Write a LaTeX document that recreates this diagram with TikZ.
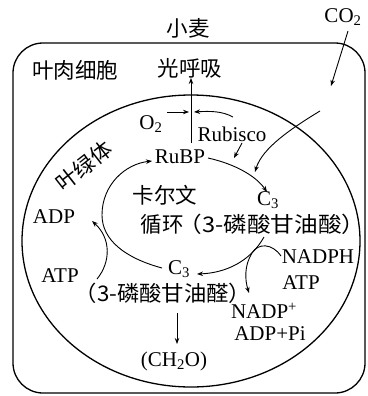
\documentclass[tikz,border=0pt]{standalone}
\usepackage{fontspec}
\setmainfont{Liberation Serif}
\newfontfamily\cjk{Noto Sans CJK SC}
\usetikzlibrary{arrows.meta}
\tikzset{
  lat/.style={inner sep=0pt,font=\fontsize{21}{21}\selectfont},
  zh/.style={inner sep=0pt,font=\cjk\fontsize{21.5}{21.5}\selectfont},
  arr/.style={line width=0.9pt,-{Stealth[length=6pt,width=4.5pt]}},
  ln/.style={line width=0.9pt},
  wall/.style={line width=1.3pt}
}
\begin{document}
\begin{tikzpicture}[x=1pt,y=-1pt]
\useasboundingbox (0,0) rectangle (367,396);
% cell and chloroplast
\draw[wall,rounded corners=30pt] (13,43) rectangle (365,393);
\draw[wall] (191,241) ellipse [x radius=169, y radius=146];
% labels
\node[zh] (wheat) at (188,28) {小麦};
\node[lat] (co2) at (343,17) {CO\textsubscript{2}};
\node[zh] (meso) at (75,70) {叶肉细胞};
\node[zh] (photo) at (190,68) {光呼吸};
\node[lat] (o2) at (151,124) {O\textsubscript{2}};
\node[lat] (rubisco) at (232,134) {Rubisco};
\node[zh,rotate=38] (chloro) at (84,166) {叶绿体};
\node[lat] (rubp) at (180,157) {RuBP};
\node[zh] (calvin) at (165,195) {卡尔文};
\node[lat] (c3a) at (268,200) {C\textsubscript{3}};
\node[zh] (cycle) at (162,224) {循环};
\node[zh] (pga) at (272,224) {\scalebox{1.1}[1]{（3-磷酸甘油酸）}};
\node[lat] (adp) at (54,217) {ADP};
\node[lat] (atpl) at (60,276) {ATP};
\node[lat] (c3b) at (179,269) {C\textsubscript{3}};
\node[zh] (gap) at (163,293) {\scalebox{1.04}[1]{（3-磷酸甘油醛）}};
\node[lat] (ch2o) at (174,361) {(CH\textsubscript{2}O)};
\node[lat] (nadph) at (318,257) {NADPH};
\node[lat] (atpr) at (301,283) {ATP};
\node[lat] (nadp) at (264,311) {NADP\textsuperscript{+}};
\node[lat] (adppi) at (270,334) {ADP+Pi};
% coordinates
\coordinate (co2s) at (348,31);
\coordinate (co2e) at (331,86);
\coordinate (co2is) at (320,111);
\coordinate (co2ie) at (255,172);
\coordinate (prs) at (191,143);
\coordinate (pre) at (191,78);
\coordinate (o2s) at (167,112);
\coordinate (o2e) at (189,112);
\coordinate (rbs) at (233,117);
\coordinate (rbe) at (194,112);
\coordinate (r1s) at (208,158);
\coordinate (r1e) at (267,192);
\coordinate (rus) at (242,143);
\coordinate (rue) at (234,158);
\coordinate (c2s) at (264,237);
\coordinate (c2e) at (197,274);
\coordinate (c3s) at (162,268);
\coordinate (c3m) at (102,215);
\coordinate (c3e) at (152,161);
\coordinate (ats) at (97,279);
\coordinate (ate) at (92,221);
\coordinate (nps) at (281,256);
\coordinate (npm) at (252,253);
\coordinate (npe) at (249,293);
\coordinate (dns) at (177,313);
\coordinate (dne) at (177,344);
% connectors
\draw[arr] (co2s) -- (co2e);
\draw[arr] (co2is) .. controls (292,128) and (262,148) .. (co2ie);
\draw[arr] (prs) -- (pre);
\draw[arr] (o2s) -- (o2e);
\draw[arr] (rbs) .. controls (222,111) and (210,111) .. (rbe);
\draw[arr] (r1s) .. controls (235,164) and (256,176) .. (r1e);
\draw[arr] (rus) -- (rue);
\draw[arr] (c2s) .. controls (250,262) and (225,273) .. (c2e);
\draw[arr] (c3s) .. controls (125,258) and (102,240) .. (c3m) .. controls (102,185) and (125,164) .. (c3e);
\draw[arr] (ats) .. controls (111,262) and (111,238) .. (ate);
\draw[arr] (nps) .. controls (272,243) and (258,243) .. (npm) .. controls (244,266) and (245,280) .. (npe);
\draw[arr] (dns) -- (dne);
\end{tikzpicture}
\end{document}
